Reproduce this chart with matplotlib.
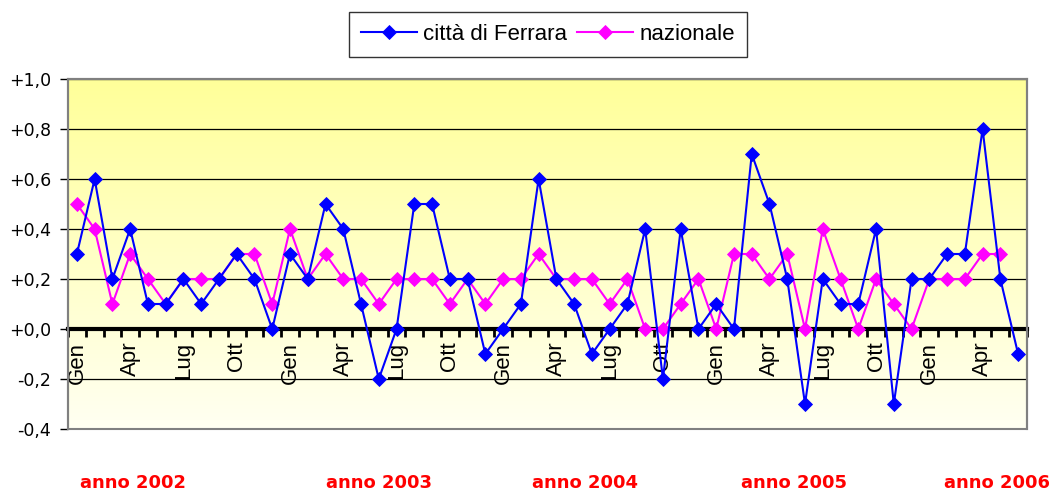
import matplotlib
matplotlib.use("Agg")
import matplotlib.pyplot as plt
import numpy as np
from matplotlib.patches import Rectangle

plt.rcParams['font.family'] = ['Liberation Sans', 'DejaVu Sans']

months = ['Gen', 'Feb', 'Mar', 'Apr', 'Mag', 'Giu', 'Lug', 'Ago', 'Set', 'Ott', 'Nov', 'Dic']
years = [2002, 2003, 2004, 2005, 2006]
categories = [f"{m} {y}" for y in years for m in months][:54]

ferrara = [0.3, 0.6, 0.2, 0.4, 0.1, 0.1, 0.2, 0.1, 0.2, 0.3, 0.2, 0.0,
           0.3, 0.2, 0.5, 0.4, 0.1, -0.2, 0.0, 0.5, 0.5, 0.2, 0.2, -0.1,
           0.0, 0.1, 0.6, 0.2, 0.1, -0.1, 0.0, 0.1, 0.4, -0.2, 0.4, 0.0,
           0.1, 0.0, 0.7, 0.5, 0.2, -0.3, 0.2, 0.1, 0.1, 0.4, -0.3, 0.2,
           0.2, 0.3, 0.3, 0.8, 0.2, -0.1]
nazionale = [0.5, 0.4, 0.1, 0.3, 0.2, 0.1, 0.2, 0.2, 0.2, 0.3, 0.3, 0.1,
             0.4, 0.2, 0.3, 0.2, 0.2, 0.1, 0.2, 0.2, 0.2, 0.1, 0.2, 0.1,
             0.2, 0.2, 0.3, 0.2, 0.2, 0.2, 0.1, 0.2, 0.0, 0.0, 0.1, 0.2,
             0.0, 0.3, 0.3, 0.2, 0.3, 0.0, 0.4, 0.2, 0.0, 0.2, 0.1, 0.0,
             0.2, 0.2, 0.2, 0.3, 0.3]
year_labels = ['anno 2002', 'anno 2003', 'anno 2004', 'anno 2005', 'anno 2006']
yticks = [-0.4, -0.2, 0.0, 0.2, 0.4, 0.6, 0.8, 1.0]
series_names = ['città di Ferrara', 'nazionale']

W, H = 1052, 490
fig = plt.figure(figsize=(W / 100, H / 100), dpi=100)
ax = fig.add_axes([68 / W, 1 - 429 / H, (1027 - 68) / W, (429 - 79) / H])

n = len(categories)
x = np.arange(n)
ax.set_xlim(-0.5, n - 0.5)
ax.set_ylim(-0.4, 1.0)

# background gradient
grad = np.linspace(1, 0, 256).reshape(-1, 1)
top = np.array([255, 255, 153]) / 255
bot = np.array([255, 255, 242]) / 255
img = bot + (top - bot) * grad[..., None]
img = img.reshape(256, 1, 3)
ax.imshow(img, extent=[-0.5, n - 0.5, -0.4, 1.0], aspect='auto', zorder=0)

# gridlines
for yv in yticks:
    if yv != 0.0:
        ax.axhline(yv, color='black', lw=0.9, zorder=1)

ax.plot(x, ferrara, color='#0000FF', lw=1.5, marker='D', ms=7, mew=0.6,
        markerfacecolor='#0000FF', markeredgecolor='#0000FF', zorder=4,
        label=series_names[0])
ax.plot(x[:len(nazionale)], nazionale, color='#FF00FF', lw=1.5, marker='D', ms=7, mew=0.6,
        markerfacecolor='#FF00FF', markeredgecolor='#FF00FF', zorder=3,
        label=series_names[1])

# spines
for s in ['top', 'right', 'left']:
    ax.spines[s].set_color('#808080')
    ax.spines[s].set_linewidth(1.5)
ax.spines['bottom'].set_position(('data', 0))
ax.spines['bottom'].set_color('black')
ax.spines['bottom'].set_linewidth(3)
ax.spines['bottom'].set_zorder(2)
ax.add_patch(Rectangle((0, 0), 1, 1, transform=ax.transAxes, fill=False,
                       edgecolor='#808080', lw=1.5, zorder=5, clip_on=False))

ax.set_yticks(yticks)
ax.set_yticklabels([f"{v:+.1f}".replace('.', ',').replace('-0,0', '+0,0') for v in yticks],
                   fontsize=12.5, family='DejaVu Sans')
ax.tick_params(axis='y', direction='out', length=6, width=1, color='black', pad=6)

major = list(range(0, n, 3))
ax.set_xticks(major)
ax.set_xticklabels([categories[i].split()[0] for i in major], rotation=90,
                   fontsize=16, va='top', ha='center')
ax.set_xticks(np.arange(-0.5, n, 1.0), minor=True)
ax.tick_params(axis='x', which='major', length=0, pad=9)
ax.tick_params(axis='x', which='minor', direction='out', length=6, width=2, color='black')

leg = ax.legend(loc='upper center', bbox_to_anchor=(548 / W, 1 - 12 / H),
                bbox_transform=fig.transFigure, ncol=2, fontsize=16,
                frameon=True, fancybox=False, edgecolor='black',
                handlelength=2.5, columnspacing=0.45, handletextpad=0.3,
                borderpad=0.55, borderaxespad=0, markerscale=1.0)
leg.get_frame().set_linewidth(1.0)

year_x = [133, 379, 585, 794, 997]
for lab, xp in zip(year_labels, year_x):
    fig.text(xp / W, 1 - 483 / H, lab, color='#FF0000', fontsize=13,
             fontweight='bold', family='DejaVu Sans', ha='center', va='center')

fig.savefig('out.png', dpi=100)
